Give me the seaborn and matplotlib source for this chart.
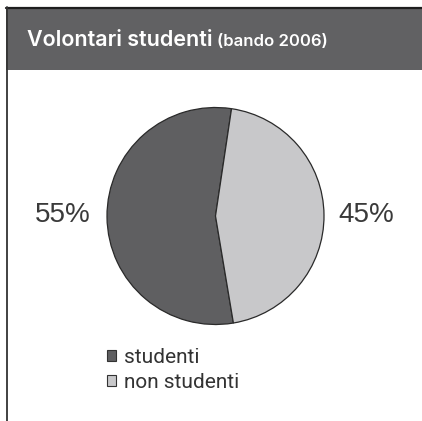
import matplotlib
matplotlib.use("Agg")
import matplotlib.pyplot as plt
from matplotlib.patches import Rectangle
from matplotlib.lines import Line2D
import seaborn as sns

categories = ["studenti", "non studenti"]
values = [55, 45]
value_labels = ["55%", "45%"]
colors = ["#5f5f61", "#c8c8ca"]

sns.set_theme(style="white")
plt.rcParams['font.family'] = ['Liberation Sans', 'DejaVu Sans']

W, H = 422, 421
fig = plt.figure(figsize=(W / 100, H / 100), dpi=100)
fig.patch.set_facecolor("white")

def fx(px):
    return px / W

def fy(py):
    return 1 - py / H

# header band
fig.patches.append(Rectangle((fx(6), fy(70)), 1 - fx(6), fy(8) - fy(70),
                             transform=fig.transFigure, facecolor="#616163",
                             edgecolor="none", zorder=0))
fig.lines.append(Line2D([fx(6), 1], [fy(7.5), fy(7.5)], transform=fig.transFigure,
                        color="#1e1e1e", lw=1.6))
fig.lines.append(Line2D([fx(6.5), fx(6.5)], [fy(7), 0], transform=fig.transFigure,
                        color="#333333", lw=1.3))

title_font = ["Inter", "Liberation Sans"]
t1 = fig.text(fx(27), fy(40), "Volontari studenti", color="white", fontsize=15.5,
              va="center", ha="left", family=title_font, fontweight="semibold")
fig.canvas.draw()
bb = t1.get_window_extent()
fig.text(bb.x1 / W + fx(5), fy(41), "(bando 2006)", color="white", fontsize=12,
         va="center", ha="left", family=title_font, fontweight="semibold")

# pie
cx, cy, r = 215.5, 216, 108.5
ax = fig.add_axes([fx(cx - r), fy(cy + r), 2 * r / W, 2 * r / H])
wedges, _ = ax.pie(values, colors=colors, startangle=-80.5, counterclock=False,
                   wedgeprops=dict(edgecolor="#2a2a2a", linewidth=0.9))
ax.set_aspect("equal")
ax.set_xlim(-1.0, 1.0)
ax.set_ylim(-1.0, 1.0)
ax.axis("off")

fig.text(fx(62.5), fy(215), value_labels[0], fontsize=20, color="#3a3a3a",
         ha="center", va="center")
fig.text(fx(366.5), fy(215), value_labels[1], fontsize=20, color="#3a3a3a",
         ha="center", va="center")

# legend
handles = [Rectangle((0, 0), 1, 1, facecolor=c, edgecolor="#333333", lw=0.8) for c in colors]
leg = fig.legend(handles, categories, loc="upper left",
                 bbox_to_anchor=(fx(107), fy(348)), frameon=False,
                 handlelength=0.45, handleheight=0.45, handletextpad=0.35,
                 labelspacing=0.3, borderaxespad=0, borderpad=0,
                 prop=dict(family=["Roboto", "Liberation Sans"], size=15))
for t in leg.get_texts():
    t.set_color("#333333")

fig.savefig("out.png", dpi=100)
